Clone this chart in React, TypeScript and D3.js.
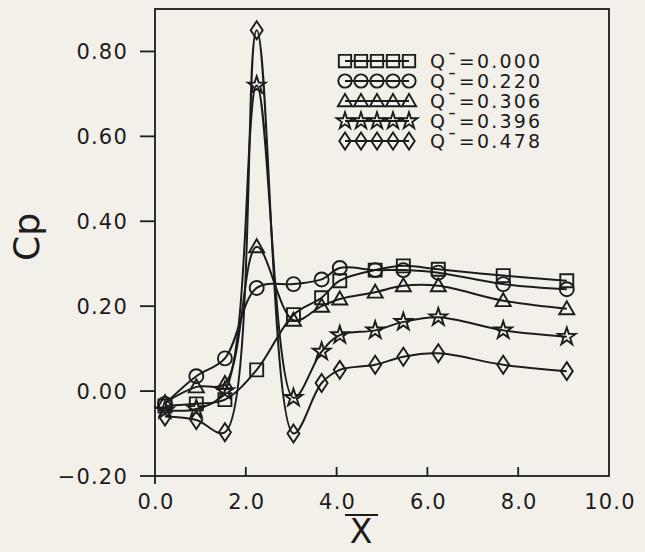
import React from "react";
import * as d3 from "d3";

// Chordwise stations (X-bar) and pressure coefficient per suction level Q-
const X_STATIONS = [0.22, 0.91, 1.54, 2.24, 3.05, 3.67, 4.07, 4.85, 5.47, 6.24, 7.67, 9.07];
const CP_Q000 = [-0.035, -0.03, -0.02, 0.05, 0.18, 0.22, 0.26, 0.285, 0.295, 0.287, 0.272, 0.26];
const CP_Q220 = [-0.03, 0.035, 0.077, 0.243, 0.252, 0.263, 0.29, 0.285, 0.285, 0.279, 0.252, 0.24];
const CP_Q306 = [-0.027, 0.01, 0.018, 0.34, 0.167, 0.2, 0.217, 0.233, 0.248, 0.248, 0.213, 0.194];
const CP_Q396 = [-0.045, -0.042, 0.0, 0.72, -0.016, 0.093, 0.132, 0.143, 0.163, 0.174, 0.143, 0.128];
const CP_Q478 = [-0.06, -0.068, -0.097, 0.85, -0.1, 0.019, 0.05, 0.062, 0.081, 0.089, 0.062, 0.047];

const Q_LABELS = ["0.000", "0.220", "0.306", "0.396", "0.478"];
const MARKERS = ["square", "circle", "triangle", "star", "diamond"];
const SERIES = [CP_Q000, CP_Q220, CP_Q306, CP_Q396, CP_Q478];

const X_TICKS = [0, 2, 4, 6, 8, 10];
const Y_TICKS = [-0.2, 0, 0.2, 0.4, 0.6, 0.8];

const W = 645;
const H = 552;
const LEFT = 155;
const RIGHT = 609;
const TOP = 9;
const BOTTOM = 476;

const INK = "#1c1c1c";
const PAPER = "#f3f0ea";
const FONT = "'DejaVu Sans', sans-serif";

function markerPath(kind: string, scale = 1): string {
  const s = scale;
  switch (kind) {
    case "square":
      return `M${-6.5 * s},${-6.5 * s}H${6.5 * s}V${6.5 * s}H${-6.5 * s}Z`;
    case "circle":
      return d3.symbol(d3.symbolCircle, Math.PI * 49 * s * s)()!;
    case "triangle":
      return `M0,${-7.5 * s}L${7.5 * s},${5.5 * s}H${-7.5 * s}Z`;
    case "star":
      return d3.symbol(d3.symbolStar, 95 * s * s)()!;
    default:
      return `M0,${-9 * s}L${6 * s},0L0,${9 * s}L${-6 * s},0Z`;
  }
}

export default function App() {
  const x = d3.scaleLinear().domain([0, 10]).range([LEFT, RIGHT]);
  const y = d3.scaleLinear().domain([-0.2, 0.9]).range([BOTTOM, TOP]);

  const line = d3
    .line<number>()
    .x((_, i) => x(X_STATIONS[i]))
    .y((d) => y(d))
    .curve(d3.curveCatmullRom.alpha(0.5));

  const legendX0 = 345;
  const legendStep = 16;
  const legendY0 = 61;
  const legendRow = 20;

  return (
    <svg
      width={W}
      height={H}
      viewBox={`0 0 ${W} ${H}`}
      style={{ position: "absolute", left: 0, top: 0 }}
    >
      <rect x={0} y={0} width={W} height={H} fill={PAPER} />

      {/* frame */}
      <rect
        x={LEFT}
        y={TOP}
        width={RIGHT - LEFT}
        height={BOTTOM - TOP}
        fill="none"
        stroke={INK}
        strokeWidth={1.8}
      />
      <line x1={LEFT} x2={LEFT} y1={BOTTOM} y2={BOTTOM + 8} stroke={INK} strokeWidth={1.8} />

      {/* y axis ticks and labels */}
      {Y_TICKS.map((t) => (
        <g key={`y${t}`}>
          <line x1={LEFT - 15} x2={LEFT} y1={y(t)} y2={y(t)} stroke={INK} strokeWidth={1.8} />
          <text
            x={128}
            y={y(t) + 8}
            textAnchor="end"
            fontFamily={FONT}
            fontSize={21}
            letterSpacing={1.2}
            fill={INK}
          >
            {d3.format(".2f")(t).replace("-", "\u2212")}
          </text>
        </g>
      ))}

      {/* x axis ticks and labels */}
      {X_TICKS.map((t) => (
        <g key={`x${t}`}>
          {t > 0 && t < 10 && (
            <line x1={x(t)} x2={x(t)} y1={BOTTOM - 9} y2={BOTTOM} stroke={INK} strokeWidth={1.8} />
          )}
          <text
            x={x(t) + 1}
            y={509}
            textAnchor="middle"
            fontFamily={FONT}
            fontSize={21}
            letterSpacing={1.2}
            fill={INK}
          >
            {d3.format(".1f")(t)}
          </text>
        </g>
      ))}

      {/* axis titles */}
      <line x1={345} x2={378} y1={515} y2={515} stroke={INK} strokeWidth={2} />
      <text
        x={361}
        y={543}
        textAnchor="middle"
        fontFamily={FONT}
        fontSize={33}
        fill={INK}
      >
        X
      </text>
      <text
        transform="translate(39,237) rotate(-90)"
        textAnchor="middle"
        fontFamily={FONT}
        fontSize={36}
        fill={INK}
      >
        Cp
      </text>

      {/* data series */}
      {SERIES.map((vals, si) => (
        <g key={`s${si}`}>
          <path d={line(vals)!} fill="none" stroke={INK} strokeWidth={2} />
          {vals.map((v, i) => (
            <path
              key={i}
              d={markerPath(MARKERS[si])}
              transform={`translate(${x(X_STATIONS[i])},${y(v)})`}
              fill="none"
              stroke={INK}
              strokeWidth={1.9}
            />
          ))}
        </g>
      ))}

      {/* legend */}
      {Q_LABELS.map((lab, si) => {
        const cy = legendY0 + si * legendRow;
        return (
          <g key={`l${si}`}>
            <line
              x1={legendX0}
              x2={legendX0 + 4 * legendStep}
              y1={cy}
              y2={cy}
              stroke={INK}
              strokeWidth={2}
            />
            {[0, 1, 2, 3, 4].map((k) => (
              <path
                key={k}
                d={markerPath(MARKERS[si], 0.95)}
                transform={`translate(${legendX0 + k * legendStep},${cy})`}
                fill="none"
                stroke={INK}
                strokeWidth={1.9}
              />
            ))}
            <text
              x={430}
              y={cy + 7}
              fontFamily={FONT}
              fontSize={19}
              letterSpacing={2.2}
              fill={INK}
            >
              {`Q\u00AF=${lab}`}
            </text>
          </g>
        );
      })}
    </svg>
  );
}
